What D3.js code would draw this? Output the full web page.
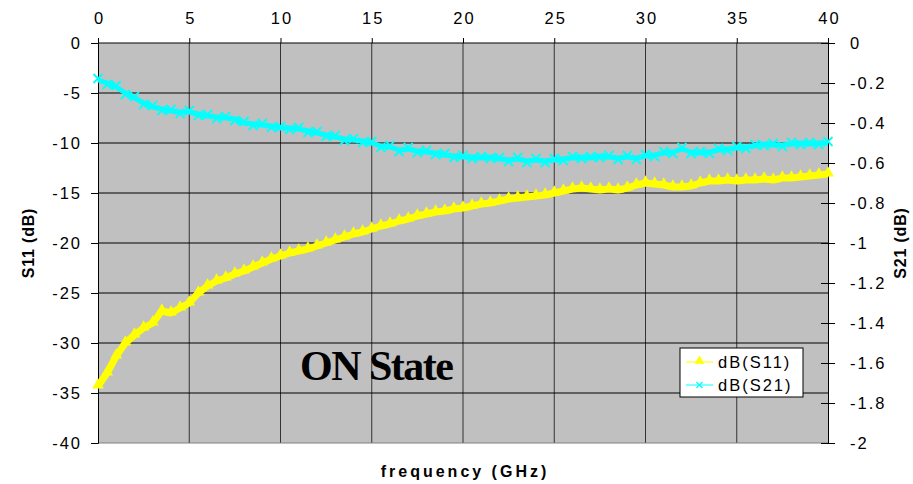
<!DOCTYPE html>
<html>
<head>
<meta charset="utf-8">
<script src="https://cdn.jsdelivr.net/npm/d3@7"></script>
<style>
  body { margin: 0; background: #fff; }
  text { font-family: "Liberation Sans", Arial, sans-serif; }
</style>
</head>
<body>
<svg></svg>
<script>
const freq = [0, 0.5, 1, 1.5, 2, 2.5, 3, 3.5, 4, 4.5, 5, 5.5, 6, 6.5, 7, 7.5, 8, 8.5, 9, 9.5,
  10, 10.5, 11, 11.5, 12, 12.5, 13, 13.5, 14, 14.5, 15, 15.5, 16, 16.5, 17, 17.5, 18, 18.5, 19, 19.5,
  20, 20.5, 21, 21.5, 22, 22.5, 23, 23.5, 24, 24.5, 25, 25.5, 26, 26.5, 27, 27.5, 28, 28.5, 29, 29.5,
  30, 30.5, 31, 31.5, 32, 32.5, 33, 33.5, 34, 34.5, 35, 35.5, 36, 36.5, 37, 37.5, 38, 38.5, 39, 39.5, 40];

const s11 = [-34.3, -33.0, -31.3, -30.0, -29.2, -28.5, -28.0, -26.8, -27.0, -26.5,
  -26.0, -25.0, -24.3, -23.8, -23.5, -23.1, -22.8, -22.4, -22.0, -21.6,
  -21.3, -21.0, -20.8, -20.6, -20.3, -20.0, -19.7, -19.4, -19.1, -18.9,
  -18.6, -18.3, -18.1, -17.8, -17.6, -17.3, -17.1, -16.9, -16.8, -16.6,
  -16.5, -16.3, -16.1, -16.0, -15.8, -15.6, -15.5, -15.4, -15.3, -15.2,
  -15.0, -14.8, -14.6, -14.5, -14.6, -14.7, -14.6, -14.7, -14.5, -14.2,
  -14.0, -14.1, -14.2, -14.4, -14.4, -14.3, -14.0, -13.8, -13.8, -13.7,
  -13.8, -13.7, -13.7, -13.6, -13.7, -13.5, -13.5, -13.4, -13.3, -13.2, -13.1];

const s21 = [-0.185, -0.20, -0.22, -0.25, -0.275, -0.30, -0.32, -0.33, -0.34, -0.345,
  -0.345, -0.355, -0.365, -0.37, -0.375, -0.38, -0.40, -0.405, -0.41, -0.415,
  -0.425, -0.425, -0.43, -0.44, -0.45, -0.46, -0.47, -0.48, -0.485, -0.49,
  -0.50, -0.515, -0.52, -0.535, -0.53, -0.54, -0.545, -0.55, -0.56, -0.565,
  -0.57, -0.57, -0.575, -0.57, -0.58, -0.585, -0.58, -0.59, -0.585, -0.59,
  -0.585, -0.58, -0.575, -0.57, -0.575, -0.565, -0.57, -0.575, -0.57, -0.575,
  -0.565, -0.56, -0.55, -0.545, -0.53, -0.545, -0.55, -0.545, -0.535, -0.53,
  -0.525, -0.52, -0.515, -0.505, -0.51, -0.51, -0.505, -0.5, -0.505, -0.5, -0.5];

const xTicks = [0, 5, 10, 15, 20, 25, 30, 35, 40];
const leftTicks = [0, -5, -10, -15, -20, -25, -30, -35, -40];
const rightTicks = [0, -0.2, -0.4, -0.6, -0.8, -1, -1.2, -1.4, -1.6, -1.8, -2];

const WIDTH = 913,
      HEIGHT = 484,
      MARGINS = { top: 43, right: 85, bottom: 41, left: 98 };
const W = WIDTH - MARGINS.left - MARGINS.right,
      H = HEIGHT - MARGINS.top - MARGINS.bottom;

const svg = d3.select('svg')
  .attr('width', WIDTH)
  .attr('height', HEIGHT);

const x = d3.scaleLinear().domain([0, 40]).range([0, W]);
const yL = d3.scaleLinear().domain([-40, 0]).range([H, 0]);
const yR = d3.scaleLinear().domain([-2, 0]).range([H, 0]);

const g = svg.append('g')
  .attr('transform', 'translate(' + MARGINS.left + ',' + MARGINS.top + ')');

// plot background
g.append('rect')
  .attr('width', W).attr('height', H)
  .attr('fill', '#c0c0c0');

// grid
g.selectAll('.vgrid').data(xTicks.slice(1, -1)).enter().append('line')
  .attr('x1', d => x(d)).attr('x2', d => x(d))
  .attr('y1', 0).attr('y2', H)
  .attr('stroke', '#333').attr('stroke-width', 1);
g.selectAll('.hgrid').data(leftTicks.slice(1, -1)).enter().append('line')
  .attr('x1', 0).attr('x2', W)
  .attr('y1', d => yL(d)).attr('y2', d => yL(d))
  .attr('stroke', '#000').attr('stroke-width', 1);

// frame
g.append('line').attr('x1', 0).attr('x2', W).attr('y1', 0).attr('y2', 0).attr('stroke', '#000');
g.append('line').attr('x1', 0).attr('x2', W).attr('y1', H).attr('y2', H).attr('stroke', '#808080');

// axes
const fmt = d => String(d).replace('\u2212', '-');
const topAxis = g.append('g')
  .call(d3.axisTop(x).tickValues(xTicks).tickSize(5).tickPadding(14).tickFormat(fmt));
const leftAxis = g.append('g')
  .call(d3.axisLeft(yL).tickValues(leftTicks).tickSize(7).tickPadding(11).tickFormat(fmt));
const rightAxis = g.append('g')
  .attr('transform', 'translate(' + W + ',0)')
  .call(d3.axisRight(yR).tickValues(rightTicks).tickSize(7).tickPadding(15).tickFormat(fmt));
rightAxis.selectAll('.tick line').attr('x1', -7);

[topAxis, leftAxis, rightAxis].forEach(a => {
  a.select('.domain').attr('stroke', '#000');
  a.selectAll('.tick line').attr('stroke', '#000');
  a.selectAll('text')
    .attr('fill', '#000')
    .style('font-size', '16.5px')
    .style('letter-spacing', '2px')
    .style('font-family', '"Liberation Sans", Arial, sans-serif');
});
topAxis.select('.domain').remove();
leftAxis.selectAll('.tick text').attr('dx', '2px');
topAxis.selectAll('.tick text').attr('dx', '1px');

// series
const pts = (ys) => freq.map((f, i) => ({ f: f, v: ys[i] }));
const s11Pts = pts(s11), s21Pts = pts(s21);

const lineL = d3.line().x(d => x(d.f)).y(d => yL(d.v));
const lineR = d3.line().x(d => x(d.f)).y(d => yR(d.v));

const plot = g.append('g');

plot.append('path').datum(s21Pts)
  .attr('fill', 'none').attr('stroke', '#00ffff')
  .attr('stroke-width', 5).attr('stroke-linejoin', 'round')
  .attr('d', lineR);
plot.selectAll('.m21').data(s21Pts).enter().append('path')
  .attr('d', 'M-4.5,-4.5L4.5,4.5M-4.5,4.5L4.5,-4.5')
  .attr('transform', (d, i) => 'translate(' + x(d.f) + ',' + (yR(d.v) + (i % 2 ? 1.5 : -1.5)) + ')')
  .attr('stroke', '#00ffff').attr('stroke-width', 1.8).attr('fill', 'none');

plot.append('path').datum(s11Pts)
  .attr('fill', 'none').attr('stroke', '#ffff00')
  .attr('stroke-width', 7).attr('stroke-linejoin', 'round')
  .attr('d', lineL);
const tri = d3.symbol().type(d3.symbolTriangle).size(60);
plot.selectAll('.m11').data(s11Pts).enter().append('path')
  .attr('d', tri)
  .attr('transform', d => 'translate(' + x(d.f) + ',' + (yL(d.v) - 1) + ')')
  .attr('fill', '#ffff00');

// ON State label
g.append('text')
  .attr('x', 202).attr('y', 337)
  .style('font-family', '"Liberation Serif", "Times New Roman", serif')
  .style('font-weight', 'bold')
  .style('font-size', '42px')
  .style('letter-spacing', '-1.5px')
  .text('ON State');

// legend
const legend = svg.append('g').attr('transform', 'translate(680,348)');
legend.append('rect')
  .attr('width', 123).attr('height', 49)
  .attr('fill', '#fff').attr('stroke', '#000').attr('stroke-width', 1);
const legItems = [
  { name: 'dB(S11)', color: '#ffff00', mark: 'tri' },
  { name: 'dB(S21)', color: '#00ffff', mark: 'x' }
];
const triSmall = d3.symbol().type(d3.symbolTriangle).size(40);
legItems.forEach((it, i) => {
  const yy = 14 + i * 23;
  legend.append('line')
    .attr('x1', 6).attr('x2', 33).attr('y1', yy).attr('y2', yy)
    .attr('stroke', it.color).attr('stroke-width', 1);
  if (it.mark === 'tri') {
    legend.append('path').attr('d', triSmall)
      .attr('transform', 'translate(19.5,' + (yy - 1) + ')').attr('fill', it.color);
  } else {
    legend.append('path').attr('d', 'M-3,-3L3,3M-3,3L3,-3')
      .attr('transform', 'translate(19.5,' + yy + ')')
      .attr('stroke', it.color).attr('stroke-width', 1.2).attr('fill', 'none');
  }
  legend.append('text')
    .attr('x', 38).attr('y', yy + 6)
    .style('font-size', '16.5px')
    .style('letter-spacing', '2px')
    .text(it.name);
});

// axis titles
svg.append('text')
  .attr('transform', 'translate(34,' + (MARGINS.top + H / 2) + ') rotate(-90)')
  .attr('text-anchor', 'middle')
  .style('font-weight', 'bold').style('font-size', '16px').style('letter-spacing', '0.8px')
  .text('S11 (dB)');
svg.append('text')
  .attr('transform', 'translate(906,' + (MARGINS.top + H / 2) + ') rotate(-90)')
  .attr('text-anchor', 'middle')
  .style('font-weight', 'bold').style('font-size', '16px').style('letter-spacing', '0.8px')
  .text('S21 (dB)');
svg.append('text')
  .attr('x', MARGINS.left + W / 2 + 2).attr('y', 477)
  .attr('text-anchor', 'middle')
  .style('font-weight', 'bold').style('font-size', '16px').style('letter-spacing', '3px')
  .text('frequency (GHz)');
</script>
</body>
</html>
